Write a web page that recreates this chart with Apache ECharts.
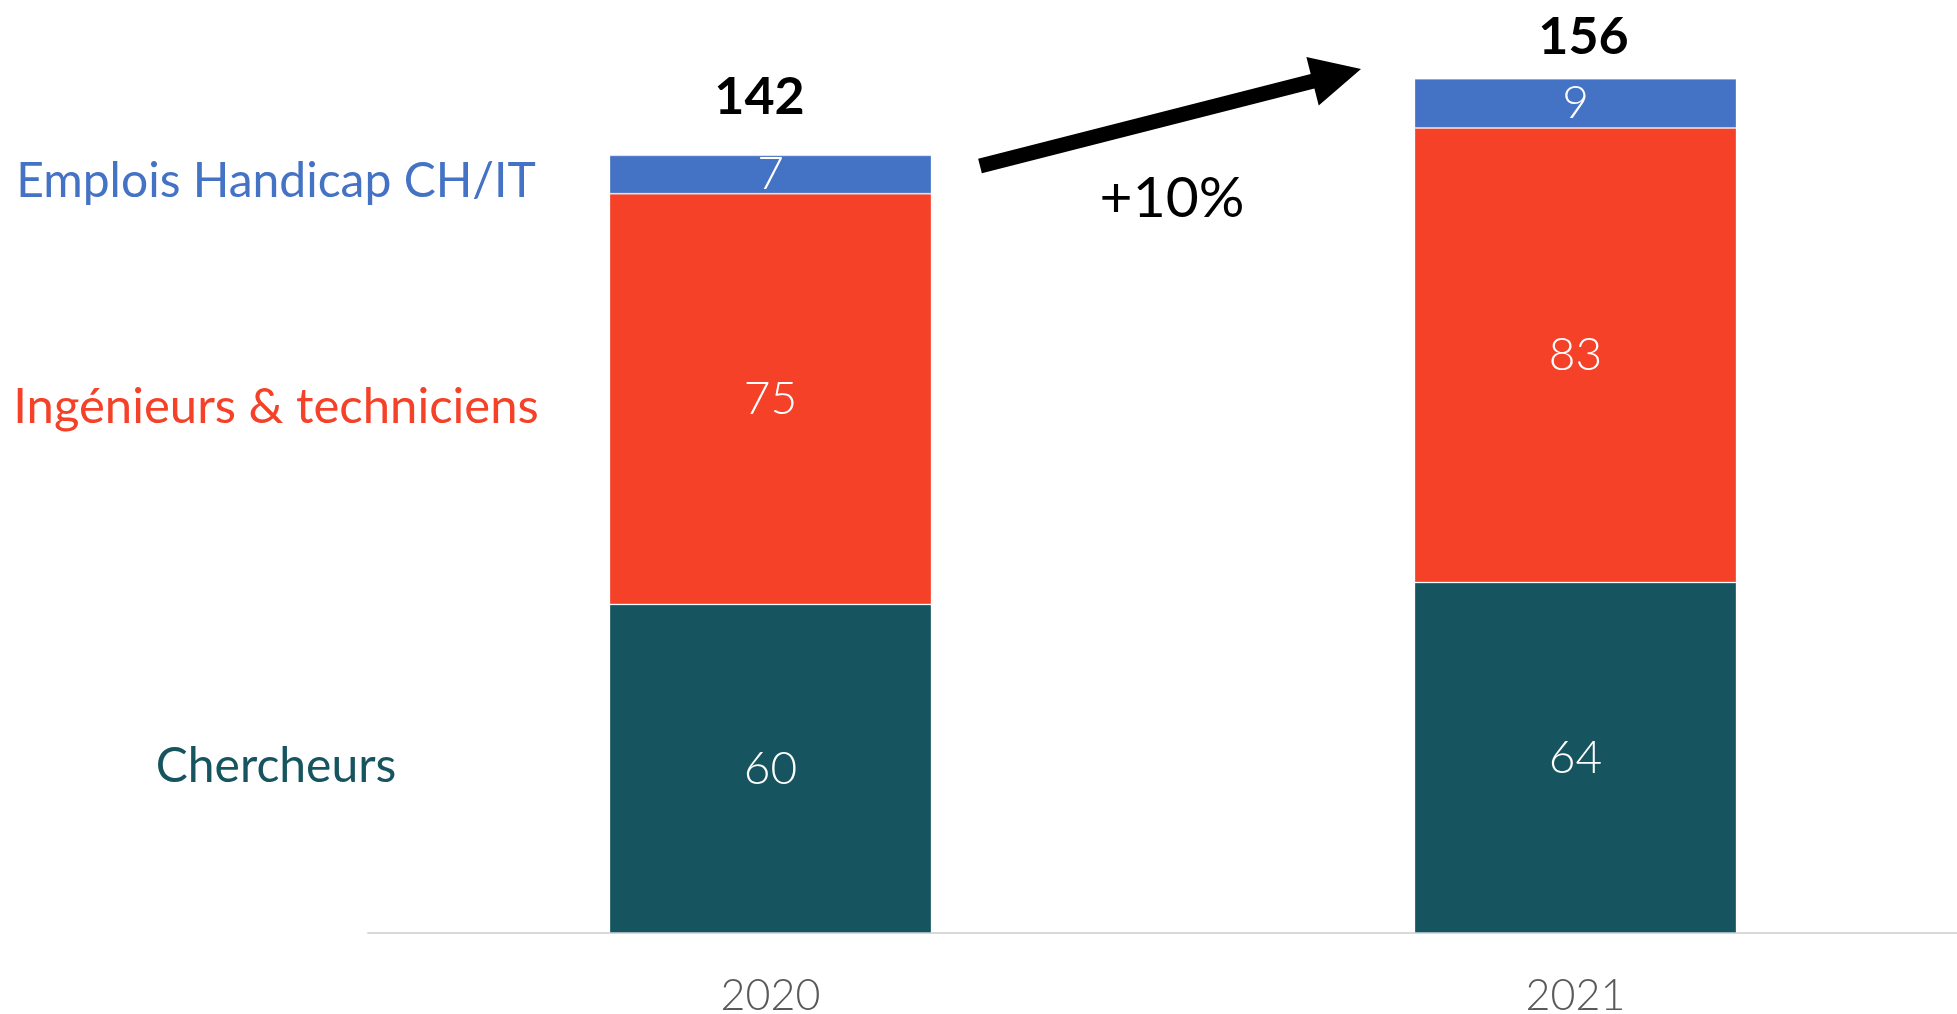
<!DOCTYPE html>
<html>
<head>
<meta charset="utf-8">
<script src="https://cdn.jsdelivr.net/npm/echarts@6/dist/echarts.min.js"></script>
<style>
html,body{margin:0;padding:0;background:#fff;}
#chart{width:1957px;height:1014px;}
</style>
</head>
<body>
<div id="chart"></div>
<script>
const categories = ['2020', '2021'];
const chercheurs = [60, 64];
const ingenieurs = [75, 83];
const emplois = [7, 9];
const totals = [142, 156];
const seriesNames = ['Chercheurs', 'Ingénieurs & techniciens', 'Emplois Handicap CH/IT'];
const growthLabel = '+10%';

const colors = ['#16555F', '#F54128', '#4472C4'];
const FONT = 'Lato, "Open Sans", sans-serif';

const chart = echarts.init(document.getElementById('chart'), null, {renderer: 'canvas'});

const segLabel = {
  show: true, position: 'inside', color: '#ffffff',
  fontFamily: FONT, fontSize: 46, fontWeight: 300
};
const segBorder = {borderColor: 'rgba(255,255,255,0.3)', borderWidth: 1};
const totalLabelTweaks = [{distance: 32, offset: [-11, 0]}, {distance: 15, offset: [8, 0]}];

const option = {
  animation: false,
  backgroundColor: '#ffffff',
  grid: {left: 368, width: 1610, top: 2, height: 931, containLabel: false, outerBoundsMode: 'none'},
  xAxis: {
    type: 'category', data: categories,
    axisLine: {show: true, lineStyle: {color: '#d9d9d9', width: 2}},
    axisTick: {show: false},
    axisLabel: {color: '#595959', fontFamily: FONT, fontSize: 43, fontWeight: 300, margin: 42}
  },
  yAxis: {
    type: 'value', min: 0, max: 170,
    show: false, splitLine: {show: false}
  },
  series: [
    {name: seriesNames[0], type: 'bar', stack: 't', data: chercheurs, barWidth: '40%',
     itemStyle: Object.assign({color: colors[0]}, segBorder), label: segLabel},
    {name: seriesNames[1], type: 'bar', stack: 't', data: ingenieurs,
     itemStyle: Object.assign({color: colors[1]}, segBorder), label: segLabel},
    {name: seriesNames[2], type: 'bar', stack: 't', data: emplois,
     itemStyle: Object.assign({color: colors[2]}, segBorder), label: segLabel},
    {name: 'Total', type: 'bar', stack: 't',
     data: totals.map((t, i) => ({value: 0, label: totalLabelTweaks[i]})),
     itemStyle: {color: 'transparent'},
     label: {show: true, position: 'top', color: '#000', fontFamily: FONT, fontSize: 52, fontWeight: 'bold',
       formatter: p => String(totals[p.dataIndex])}}
  ]
};
chart.setOption(option);

// side labels aligned with the 2020 segments
const seriesData = [chercheurs, ingenieurs, emplois];
const graphics = [];
let cum = 0;
const labelX = 276;
const yOffsets = [-2, 8, 7];
const labelSizes = [48, 49, 48];
seriesData.forEach((arr, si) => {
  const mid = cum + arr[0] / 2;
  cum += arr[0];
  const y = chart.convertToPixel({gridIndex: 0}, [0, mid])[1] + yOffsets[si];
  graphics.push({
    type: 'text', x: labelX, y: y,
    style: {text: seriesNames[si], fill: colors[si], font: '400 ' + labelSizes[si] + 'px ' + FONT,
      textAlign: 'center', textVerticalAlign: 'middle'}
  });
});

// growth arrow
const T = [980, 166], H = [1361, 69];
const dx = H[0] - T[0], dy = H[1] - T[1];
const len = Math.hypot(dx, dy);
const u = [dx / len, dy / len];
const n = [-u[1], u[0]];
const headLen = 50, headHalf = 25, shaftHalf = 7.5;
const B = [H[0] - u[0] * headLen, H[1] - u[1] * headLen];
const pt = (P, k) => [P[0] + n[0] * k, P[1] + n[1] * k];
graphics.push({
  type: 'polygon',
  shape: {points: [pt(T, -shaftHalf), pt(B, -shaftHalf), pt(B, -headHalf), H, pt(B, headHalf), pt(B, shaftHalf), pt(T, shaftHalf)]},
  style: {fill: '#000'}
});
graphics.push({
  type: 'text', x: 1172, y: 199,
  style: {text: growthLabel, fill: '#000', font: '400 57px ' + FONT, textAlign: 'center', textVerticalAlign: 'middle'}
});
chart.setOption({graphic: graphics});
</script>
</body>
</html>
